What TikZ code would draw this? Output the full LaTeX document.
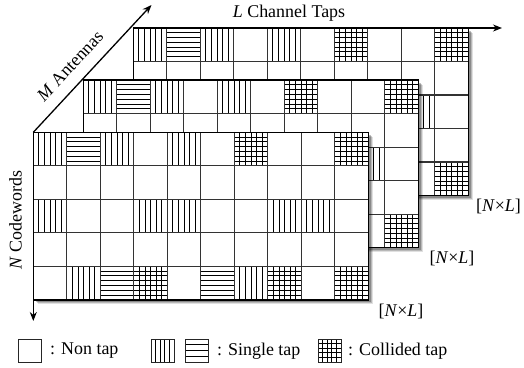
\documentclass[tikz,border=0pt]{standalone}
\usepackage{fontspec}
\setmainfont{Liberation Serif}
\usetikzlibrary{arrows.meta}
\begin{document}
\begin{tikzpicture}[x=1bp,y=-1bp, font=\fontsize{18}{20}\selectfont,
  gridline/.style={draw=black!80, line width=1.1bp},
  border/.style={draw=black, line width=1.6bp},
  patline/.style={draw=black, line width=0.9bp},
  legbox/.style={draw=black!85, line width=1bp},
  axis/.style={draw=black, line width=1.3bp, -{Stealth[length=9bp,width=7bp]}},
  lab/.style={inner sep=0pt}]
\useasboundingbox (0,0) rectangle (524,367);
\def\cellsz{33.5}
\newcommand\tapgrid[2]{%
\begin{scope}[shift={(#1,#2)}]
  \foreach \o/\op in {4.5/0.12, 3.5/0.18, 2.5/0.25}
    {\fill[black, opacity=\op] (\o,\o) rectangle (335+\o,167.5+\o);}
  \fill[white] (0,0) rectangle (335,167.5);
  \foreach \c/\r in {0/0,2/0,4/0,6/0,9/0,0/2,3/2,4/2,7/2,8/2,1/4,3/4,6/4,7/4,9/4}
    {\foreach \k in {1,...,5}
      {\draw[patline] ({(\c+\k/6)*\cellsz},{\r*\cellsz}) -- ++(0,\cellsz);}}
  \foreach \c/\r in {1/0,6/0,9/0,2/4,3/4,5/4,7/4,9/4}
    {\foreach \k in {1,...,6}
      {\draw[patline] ({\c*\cellsz},{(\r+\k/7)*\cellsz}) -- ++(\cellsz,0);}}
  \foreach \c in {1,...,9}
    {\draw[gridline] ({\c*\cellsz},0) -- ({\c*\cellsz},167.5);}
  \foreach \r in {1,...,4}
    {\draw[gridline] (0,{\r*\cellsz}) -- (335,{\r*\cellsz});}
  \draw[border] (0,0) rectangle (335,167.5);
\end{scope}}

% grids back to front
\tapgrid{133.3}{28}
\tapgrid{83.3}{80.1}
\tapgrid{33.3}{132.3}

% axes
\coordinate (F) at (33.3,132.3);
\coordinate (B) at (133.3,28);
\coordinate (Mend) at (151.5,5);
\coordinate (Nend) at (33.3,321);
\coordinate (Lend) at (502,28);
\draw[axis] (F) -- (Mend);
\draw[axis] (F) -- (Nend);
\draw[axis] (B) -- (Lend);

% labels
\node[lab] (Llab) at (289,13) {\textit{L} Channel Taps};
\node[lab, rotate=47] (Mlab) at (70,66) {\textit{M} Antennas};
\node[lab, rotate=90] (Nlab) at (15.5,220) {\textit{N} Codewords};
\node[lab] (dim1) at (498.5,206) {[\textit{N}×\textit{L}]};
\node[lab] (dim2) at (452,258) {[\textit{N}×\textit{L}]};
\node[lab] (dim3) at (401,311) {[\textit{N}×\textit{L}]};

% legend
\draw[legbox] (18.5,339) rectangle (41.5,362);
\node[lab, anchor=west] (leg1) at (50,351) {: Non tap};
\begin{scope}[shift={(151,339)}]
  \foreach \k in {1,...,4} {\draw[patline] ({\k*23/5},0) -- ({\k*23/5},23);}
  \draw[legbox] (0,0) rectangle (23,23);
\end{scope}
\begin{scope}[shift={(185,339)}]
  \foreach \k in {1,...,3} {\draw[patline] (0,{\k*23/4}) -- (23,{\k*23/4});}
  \draw[legbox] (0,0) rectangle (23,23);
\end{scope}
\node[lab, anchor=west] (leg2) at (217,351) {: Single tap};
\begin{scope}[shift={(318,339)}]
  \foreach \k in {1,...,4} {\draw[patline] ({\k*23/5},0) -- ({\k*23/5},23);
    \draw[patline] (0,{\k*23/5}) -- (23,{\k*23/5});}
  \draw[legbox] (0,0) rectangle (23,23);
\end{scope}
\node[lab, anchor=west] (leg3) at (348,351) {: Collided tap};
\end{tikzpicture}
\end{document}
